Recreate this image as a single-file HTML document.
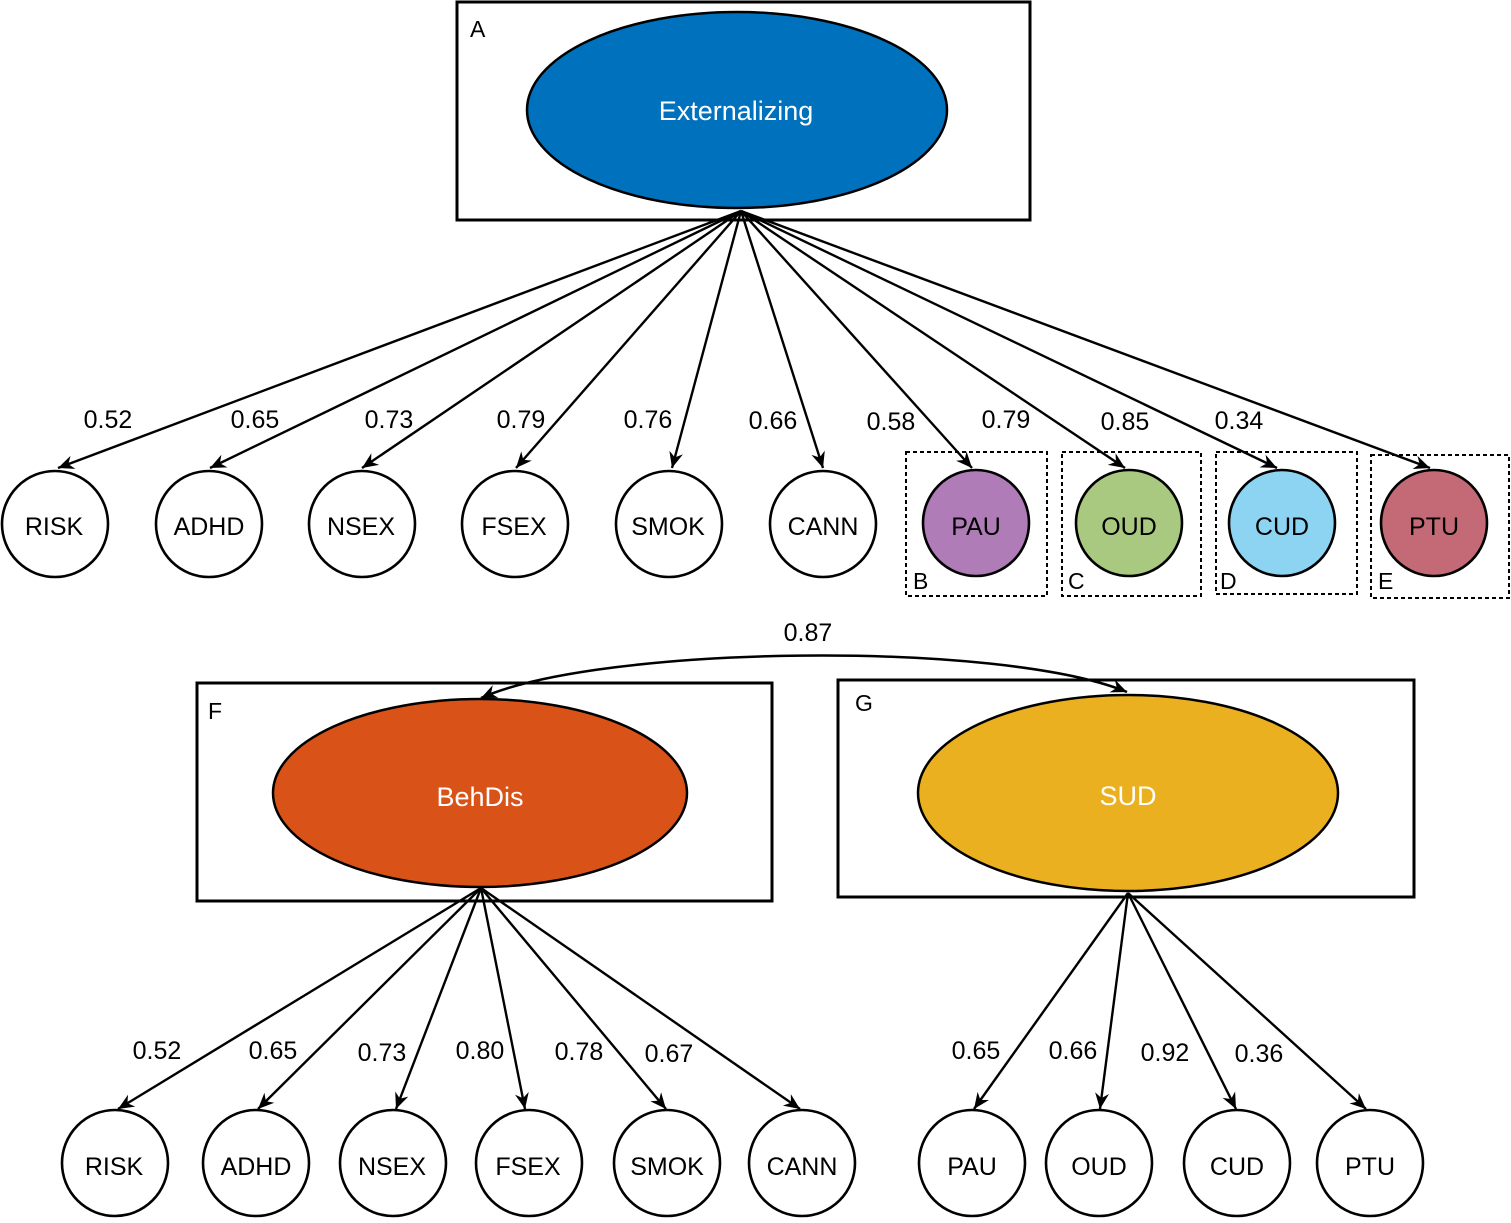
<!DOCTYPE html>
<html><head><meta charset="utf-8"><style>
html,body{margin:0;padding:0;background:#fff}
svg text{font-family:"Liberation Sans",sans-serif}
</style></head><body>
<svg width="1511" height="1218" viewBox="0 0 1511 1218" xmlns="http://www.w3.org/2000/svg">
<defs>
<marker id="ah" viewBox="0 0 20 20" refX="18" refY="10" markerWidth="20" markerHeight="20" markerUnits="userSpaceOnUse" orient="auto-start-reverse">
<path d="M2,3 L18,10 L2,17 L7,10 Z" fill="#000"/>
</marker>
</defs>
<g stroke="#000" stroke-width="3" fill="none">
<rect x="457" y="2" width="573" height="218"/>
<rect x="197" y="683" width="575" height="218"/>
<rect x="838" y="680" width="576" height="217"/>
</g>
<ellipse cx="737" cy="110" rx="210" ry="98" fill="#0071bc" stroke="#000" stroke-width="2.5"/>
<ellipse cx="480" cy="793" rx="207" ry="94" fill="#d95319" stroke="#000" stroke-width="2.5"/>
<ellipse cx="1128" cy="793" rx="210" ry="98" fill="#ebb020" stroke="#000" stroke-width="2.5"/>
<g fill="#fff" font-size="27" text-anchor="middle">
<text x="736" y="120">Externalizing</text>
<text x="480" y="806">BehDis</text>
<text x="1128" y="805">SUD</text>
</g>
<g font-size="23">
<text x="470" y="37">A</text>
<text x="208" y="719">F</text>
<text x="855" y="711">G</text>
<text x="913" y="589">B</text>
<text x="1068" y="589">C</text>
<text x="1220" y="589">D</text>
<text x="1378" y="589">E</text>
</g>
<g stroke="#000" stroke-width="2" fill="none" stroke-dasharray="4,3">
<rect x="906" y="452" width="141" height="144"/>
<rect x="1062" y="452" width="139" height="144"/>
<rect x="1216" y="452" width="141" height="142"/>
<rect x="1371" y="455" width="138" height="143"/>
</g>
<g stroke="#000" stroke-width="2.4" marker-end="url(#ah)">
<line x1="741" y1="211" x2="58" y2="468"/>
<line x1="741" y1="211" x2="210" y2="468"/>
<line x1="741" y1="211" x2="362" y2="468"/>
<line x1="741" y1="211" x2="516" y2="468"/>
<line x1="741" y1="211" x2="672" y2="468"/>
<line x1="741" y1="211" x2="823" y2="468"/>
<line x1="741" y1="211" x2="972" y2="468"/>
<line x1="741" y1="211" x2="1125" y2="468"/>
<line x1="741" y1="211" x2="1277" y2="468"/>
<line x1="741" y1="211" x2="1430" y2="468"/>
<line x1="481" y1="888" x2="118" y2="1109"/>
<line x1="481" y1="888" x2="258" y2="1109"/>
<line x1="481" y1="888" x2="396" y2="1109"/>
<line x1="481" y1="888" x2="525" y2="1109"/>
<line x1="481" y1="888" x2="666" y2="1109"/>
<line x1="481" y1="888" x2="800" y2="1109"/>
<line x1="1128" y1="893" x2="974" y2="1109"/>
<line x1="1128" y1="893" x2="1100" y2="1109"/>
<line x1="1128" y1="893" x2="1236" y2="1109"/>
<line x1="1128" y1="893" x2="1366" y2="1109"/>
</g>
<path d="M481,698 C600,645 1000,640 1127,692" stroke="#000" stroke-width="2.5" fill="none" marker-start="url(#ah)" marker-end="url(#ah)"/>
<g stroke="#000" stroke-width="2.6">
<circle cx="55" cy="524" r="53" fill="#fff"/>
<circle cx="209" cy="524" r="53" fill="#fff"/>
<circle cx="362" cy="524" r="53" fill="#fff"/>
<circle cx="515" cy="524" r="53" fill="#fff"/>
<circle cx="669" cy="524" r="53" fill="#fff"/>
<circle cx="823" cy="524" r="53" fill="#fff"/>
<circle cx="976" cy="523" r="53" fill="#b07cb8"/>
<circle cx="1129" cy="523" r="53" fill="#a8c97f"/>
<circle cx="1282" cy="523" r="53" fill="#8dd3f2"/>
<circle cx="1434" cy="523" r="53" fill="#c46a76"/>
<circle cx="115" cy="1163" r="53" fill="#fff"/>
<circle cx="256" cy="1163" r="53" fill="#fff"/>
<circle cx="393" cy="1163" r="53" fill="#fff"/>
<circle cx="529" cy="1163" r="53" fill="#fff"/>
<circle cx="667" cy="1163" r="53" fill="#fff"/>
<circle cx="802" cy="1163" r="53" fill="#fff"/>
<circle cx="972" cy="1163" r="53" fill="#fff"/>
<circle cx="1099" cy="1163" r="53" fill="#fff"/>
<circle cx="1237" cy="1163" r="53" fill="#fff"/>
<circle cx="1370" cy="1163" r="53" fill="#fff"/>
</g>
<g font-size="25" text-anchor="middle">
<text x="54" y="535">RISK</text>
<text x="209" y="535">ADHD</text>
<text x="361" y="535">NSEX</text>
<text x="514" y="535">FSEX</text>
<text x="668" y="535">SMOK</text>
<text x="823" y="535">CANN</text>
<text x="976" y="535">PAU</text>
<text x="1129" y="535">OUD</text>
<text x="1282" y="535">CUD</text>
<text x="1434" y="535">PTU</text>
<text x="114" y="1175">RISK</text>
<text x="256" y="1175">ADHD</text>
<text x="392" y="1175">NSEX</text>
<text x="528" y="1175">FSEX</text>
<text x="667" y="1175">SMOK</text>
<text x="802" y="1175">CANN</text>
<text x="972" y="1175">PAU</text>
<text x="1099" y="1175">OUD</text>
<text x="1237" y="1175">CUD</text>
<text x="1370" y="1175">PTU</text>
</g>
<g font-size="25" text-anchor="middle">
<text x="108" y="428">0.52</text>
<text x="255" y="428">0.65</text>
<text x="389" y="428">0.73</text>
<text x="521" y="428">0.79</text>
<text x="648" y="428">0.76</text>
<text x="773" y="429">0.66</text>
<text x="891" y="430">0.58</text>
<text x="1006" y="428">0.79</text>
<text x="1125" y="430">0.85</text>
<text x="1239" y="429">0.34</text>
<text x="808" y="641">0.87</text>
<text x="157" y="1059">0.52</text>
<text x="273" y="1059">0.65</text>
<text x="382" y="1061">0.73</text>
<text x="480" y="1059">0.80</text>
<text x="579" y="1060">0.78</text>
<text x="669" y="1062">0.67</text>
<text x="976" y="1059">0.65</text>
<text x="1073" y="1059">0.66</text>
<text x="1165" y="1061">0.92</text>
<text x="1259" y="1062">0.36</text>
</g>
</svg>
</body></html>
